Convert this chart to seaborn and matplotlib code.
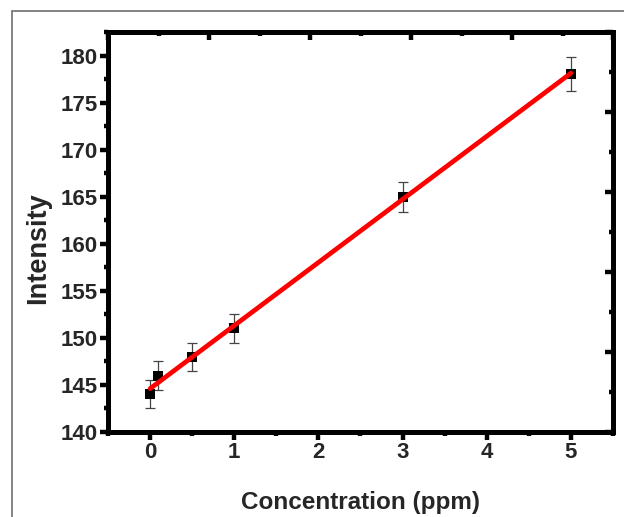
import numpy as np
import pandas as pd
import matplotlib
matplotlib.use("Agg")
import matplotlib.pyplot as plt
from matplotlib.patches import Rectangle
from matplotlib.ticker import MultipleLocator, NullFormatter
import seaborn as sns

sns.set_theme(style="ticks")
plt.rcParams["font.family"] = ["Liberation Sans", "DejaVu Sans"]
plt.rcParams["font.weight"] = "bold"

# datos
concentration = [0, 0.1, 0.5, 1, 3, 5]
intensity = [144, 146, 148, 151, 165, 178]
error = [1.5, 1.5, 1.5, 1.5, 1.6, 1.8]

df = pd.DataFrame({"Concentration (ppm)": concentration,
                   "Intensity": intensity,
                   "err": error})

fig = plt.figure(figsize=(6.24, 5.17), dpi=100)
ax = fig.add_axes([108 / 624, 85 / 517, 505 / 624, 400 / 517])

# barras de error primero, luego los cuadros y al final la recta
ax.errorbar(df["Concentration (ppm)"], df["Intensity"], yerr=df["err"],
            fmt="none", ecolor="#444444", elinewidth=0.9, capsize=3.5,
            capthick=0.9, zorder=2)
sns.scatterplot(data=df, x="Concentration (ppm)", y="Intensity", marker="s",
                s=48, color="black", edgecolor="black", linewidth=0, ax=ax,
                zorder=3)
sns.regplot(data=df, x="Concentration (ppm)", y="Intensity", scatter=False,
            ci=None, color="red", line_kws={"linewidth": 3.4, "zorder": 4},
            ax=ax)

ax.set_xlim(-0.5, 5.5)
ax.set_ylim(140, 182.5)
ax.xaxis.set_major_locator(MultipleLocator(1))
ax.xaxis.set_minor_locator(MultipleLocator(0.5))
ax.yaxis.set_major_locator(MultipleLocator(5))
ax.yaxis.set_minor_locator(MultipleLocator(2.5))

for s in ax.spines.values():
    s.set_linewidth(3.5)
    s.set_color("black")
    s.set_visible(True)

ax.tick_params(which="major", direction="out", length=5.5, width=3.2,
               color="black", labelsize=16, pad=2, top=False, right=False)
ax.tick_params(which="minor", direction="out", length=3, width=3.2,
               color="black", top=False, right=False)
for lab in ax.get_xticklabels() + ax.get_yticklabels():
    lab.set_fontweight("bold")

ax.set_xlabel("Concentration (ppm)", fontsize=17.5, fontweight="bold", labelpad=20)
ax.set_ylabel("Intensity", fontsize=19.5, fontweight="bold")
ax.yaxis.set_label_coords(-0.112, 0.46)

# ejes de arriba y derecha, con su propia escala como en el original
axt = ax.twiny()
axt.set_xlim(0, 5)
axt.xaxis.set_major_locator(MultipleLocator(1))
axt.xaxis.set_minor_locator(MultipleLocator(0.5))
axt.xaxis.set_major_formatter(NullFormatter())
axt.tick_params(axis="x", which="major", direction="in", length=5.5, width=3.2,
                color="black")
axt.tick_params(axis="x", which="minor", direction="in", length=3, width=3.2,
                color="black")
axr = ax.twinx()
axr.set_ylim(0, 5)
axr.yaxis.set_major_locator(MultipleLocator(1))
axr.yaxis.set_minor_locator(MultipleLocator(0.5))
axr.yaxis.set_major_formatter(NullFormatter())
axr.tick_params(axis="y", which="major", direction="in", length=5.5, width=3.2,
                color="black")
axr.tick_params(axis="y", which="minor", direction="in", length=3, width=3.2,
                color="black")
for a in (axt, axr):
    for s in a.spines.values():
        s.set_linewidth(3.5)
        s.set_color("black")

# marco gris exterior
fig.patches.append(Rectangle((12 / 624, -0.2), 1.2, 1.2 + (517 - 11) / 517 - 1.0,
                             transform=fig.transFigure, fill=False,
                             edgecolor="#6e6e6e", linewidth=1.2))

fig.savefig("out.png", dpi=100)
